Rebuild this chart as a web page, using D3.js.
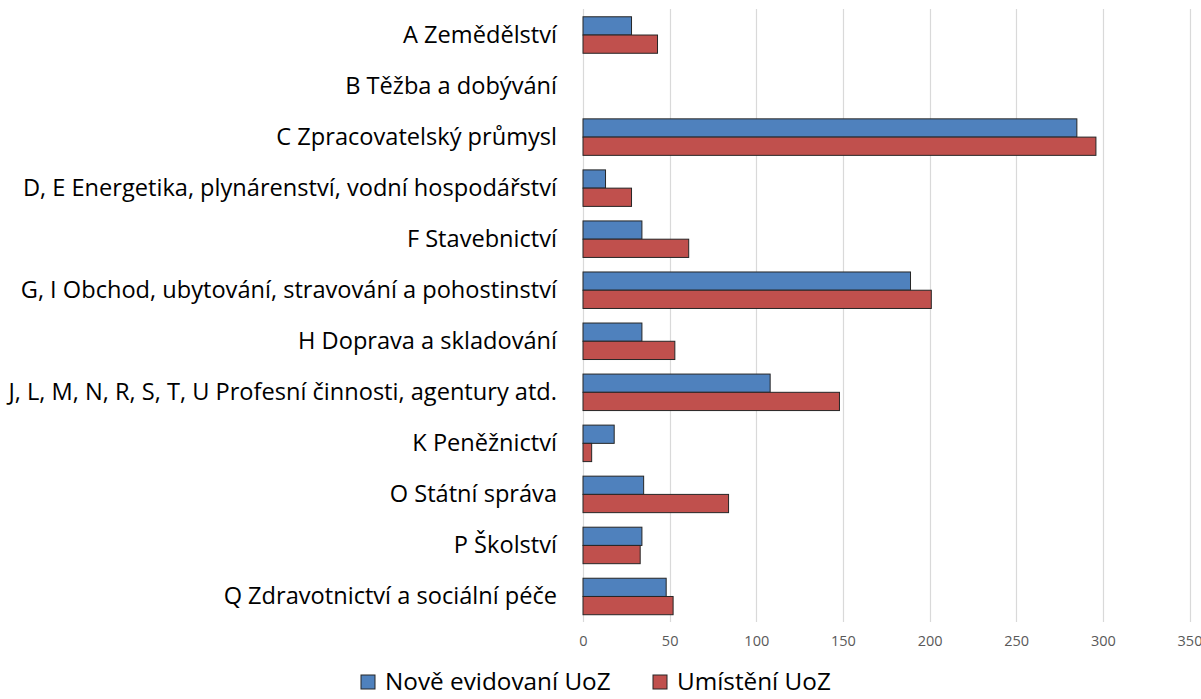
<!DOCTYPE html>
<html>
<head>
<meta charset="utf-8">
<script src="https://cdn.jsdelivr.net/npm/d3@7"></script>
<style>
  body { margin: 0; background: #fff; }
  svg text { font-family: "Open Sans", Lato, sans-serif; }
</style>
</head>
<body>
<div class="canvas"></div>
<script>
// data
const categories = [
    'A Zemědělství',
    'B Těžba a dobývání',
    'C Zpracovatelský průmysl',
    'D, E Energetika, plynárenství, vodní hospodářství',
    'F Stavebnictví',
    'G, I Obchod, ubytování, stravování a pohostinství',
    'H Doprava a skladování',
    'J, L, M, N, R, S, T, U Profesní činnosti, agentury atd.',
    'K Peněžnictví',
    'O Státní správa',
    'P Školství',
    'Q Zdravotnictví a sociální péče'
];
const seriesNames = ['Nově evidovaní UoZ', 'Umístění UoZ'];
const noveEvidovani = [28, 0, 285, 13, 34, 189, 34, 108, 18, 35, 34, 48];
const umisteni = [43, 0, 296, 28, 61, 201, 53, 148, 5, 84, 33, 52];
const xTicks = [0, 50, 100, 150, 200, 250, 300, 350];
const colors = ['#4f81bd', '#c0504d'];

const width = 1201, height = 699;

const svg = d3.select('.canvas')
    .append('svg')
    .attr('width', width)
    .attr('height', height);

// scales
const x = d3.scaleLinear()
    .domain([0, 350])
    .range([583, 1189.5]);

const y = d3.scaleBand()
    .domain(categories)
    .range([9.5, 622])
    .paddingInner(0.285)
    .paddingOuter(0.1425);

const ySub = d3.scaleBand()
    .domain(seriesNames)
    .range([0, y.bandwidth()]);

// gridlines
svg.append('g')
    .selectAll('line')
    .data(xTicks)
    .enter()
    .append('line')
    .attr('x1', d => Math.round(x(d)) + 0.5)
    .attr('x2', d => Math.round(x(d)) + 0.5)
    .attr('y1', 9)
    .attr('y2', 622)
    .attr('stroke', '#d9d9d9')
    .attr('stroke-width', 1.2);

// x axis tick labels
const xAxis = d3.axisBottom(x)
    .tickValues(xTicks)
    .tickSize(0)
    .tickPadding(0);

const gx = svg.append('g')
    .attr('transform', 'translate(0, 636)')
    .call(xAxis);
gx.select('.domain').remove();
gx.selectAll('text')
    .attr('fill', '#595959')
    .style('font-size', '14.5px');

// category labels
const yAxis = d3.axisLeft(y)
    .tickSize(0)
    .tickPadding(0);

const gy = svg.append('g')
    .attr('transform', 'translate(557, 0)')
    .call(yAxis);
gy.select('.domain').remove();
gy.selectAll('text')
    .attr('fill', '#000')
    .style('font-size', '23.6px');

// bars
const rows = categories.map((c, i) => ({
    cat: c,
    values: [noveEvidovani[i], umisteni[i]]
}));

const groups = svg.append('g')
    .selectAll('g')
    .data(rows)
    .enter()
    .append('g')
    .attr('transform', d => `translate(0, ${y(d.cat)})`);

groups.selectAll('rect')
    .data(d => d.values.map((v, j) => ({ name: seriesNames[j], value: v, j })))
    .enter()
    .filter(d => d.value > 0)
    .append('rect')
    .attr('x', x(0))
    .attr('y', d => ySub(d.name))
    .attr('width', d => x(d.value) - x(0))
    .attr('height', ySub.bandwidth())
    .attr('fill', d => colors[d.j])
    .attr('stroke', '#262626')
    .attr('stroke-width', 1);

// legend
const legendX = [361, 653];
const legend = svg.append('g')
    .selectAll('g')
    .data(seriesNames)
    .enter()
    .append('g')
    .attr('transform', (d, i) => `translate(${legendX[i]}, 675)`);

legend.append('rect')
    .attr('width', 14)
    .attr('height', 14)
    .attr('fill', (d, i) => colors[i])
    .attr('stroke', '#262626')
    .attr('stroke-width', 1);

legend.append('text')
    .attr('x', 24)
    .attr('y', 15)
    .attr('fill', '#000')
    .style('font-size', '24.3px')
    .text(d => d);
</script>
</body>
</html>
